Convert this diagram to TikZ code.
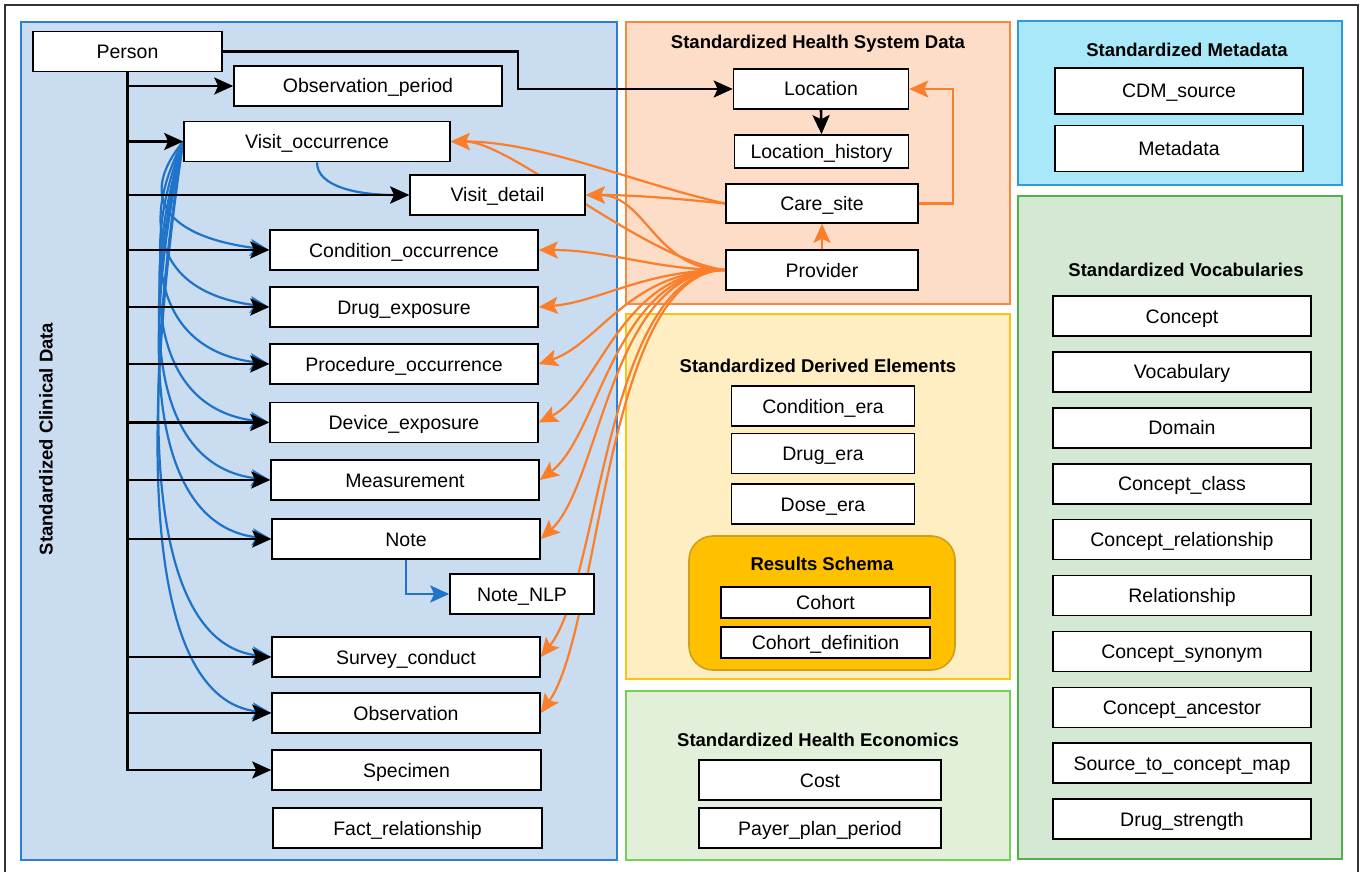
\documentclass[tikz,border=0pt]{standalone}
\usepackage{fontspec}
\setmainfont{Liberation Sans}
\usepackage{tikz}
\usetikzlibrary{positioning,arrows.meta}

\definecolor{clinfill}{HTML}{C9DCF0}
\definecolor{clinline}{HTML}{2B80D5}
\definecolor{hsfill}{HTML}{FDDCC8}
\definecolor{hsline}{HTML}{F7883C}
\definecolor{derfill}{HTML}{FFEEC1}
\definecolor{derline}{HTML}{FFC30F}
\definecolor{resfill}{HTML}{FFC000}
\definecolor{resline}{HTML}{CF9F18}
\definecolor{ecofill}{HTML}{E2F0D9}
\definecolor{ecoline}{HTML}{78CF58}
\definecolor{metafill}{HTML}{A9E8F9}
\definecolor{metaline}{HTML}{2D9BD7}
\definecolor{vocfill}{HTML}{D5E8D4}
\definecolor{vocline}{HTML}{52B04A}
\definecolor{linkblue}{HTML}{1F73C8}
\definecolor{linkorange}{HTML}{FB7F2B}

\pgfdeclarelayer{panels}
\pgfdeclarelayer{links}
\pgfsetlayers{panels,links,main}

\tikzset{
  tbl/.style={draw, line width=1.6pt, fill=white, minimum height=40pt, inner sep=0pt, text height=14pt, text depth=0pt},
  paneltitle/.style={font=\fontsize{18.5}{22}\selectfont\bfseries, inner sep=0pt, text height=13.3pt, text depth=0pt},
  panel/.style={line width=1.6pt},
  linktip/.style={-{Stealth[length=19pt 0 0, width=17pt 0 0, inset=4pt 0 0]}},
  blackarrow/.style={linktip, line width=2.6pt},
  bluearrow/.style={linktip, line width=2.2pt, color=linkblue},
  orangearrow/.style={linktip, line width=2.2pt, color=linkorange},
}

\begin{document}
\begin{tikzpicture}[x=1pt, y=-1pt, font=\fontsize{19.5}{23}\selectfont, node distance=55.9pt]
\useasboundingbox (0,0) rectangle (1361,872);

% boxes round the groups
\begin{pgfonlayer}{panels}
  \draw[line width=1.2pt, black!80] (5,5) rectangle (1358,890);
  \draw[panel, draw=clinline, fill=clinfill] (21,22) rectangle (617,860);
  \draw[panel, draw=hsline, fill=hsfill] (626,22) rectangle (1010,304);
  \draw[panel, draw=derline, fill=derfill] (626,314) rectangle (1010,679);
  \draw[panel, draw=resline, fill=resfill, rounded corners=24pt] (689,536) rectangle (955,670);
  \draw[panel, draw=ecoline, fill=ecofill] (626,691) rectangle (1010,860);
  \draw[panel, draw=metaline, fill=metafill] (1018,21) rectangle (1342,185);
  \draw[panel, draw=vocline, fill=vocfill] (1018,196) rectangle (1342,859);
\end{pgfonlayer}

\node[paneltitle, rotate=90] (clintitle) at (46,439) {Standardized Clinical Data};
\node[paneltitle] (hstitle) at (818,42) {Standardized Health System Data};
\node[paneltitle] (dertitle) at (818,366) {Standardized Derived Elements};
\node[paneltitle] (restitle) at (822,564) {Results Schema};
\node[paneltitle] (ecotitle) at (818,740) {Standardized Health Economics};
\node[paneltitle] (metatitle) at (1187,50) {Standardized Metadata};
\node[paneltitle] (voctitle) at (1186,270) {Standardized Vocabularies};

% clinical data
\node[tbl, minimum width=189pt] (person) at (127.5,51.5) {Person};
\node[tbl, minimum width=268pt] (op) at (368,86) {Observation\_period};
\node[tbl, minimum width=266pt] (vo) at (317,141.5) {Visit\_occurrence};
\node[tbl, minimum width=175pt] (vd) at (497.5,195) {Visit\_detail};
\node[tbl, minimum width=268pt] (cond) at (404,250) {Condition\_occurrence};
\node[tbl, minimum width=268pt] (drug) at (404,307) {Drug\_exposure};
\node[tbl, minimum width=268pt] (proc) at (404,364) {Procedure\_occurrence};
\node[tbl, minimum width=268pt] (dev) at (404,422.5) {Device\_exposure};
\node[tbl, minimum width=268pt] (meas) at (405,480) {Measurement};
\node[tbl, minimum width=268pt] (note) at (406,539) {Note};
\node[tbl, minimum width=144pt] (nlp) at (522,594) {Note\_NLP};
\node[tbl, minimum width=268pt] (surv) at (406,657) {Survey\_conduct};
\node[tbl, minimum width=268pt] (obs) at (406,713) {Observation};
\node[tbl, minimum width=269pt] (spec) at (406.5,770) {Specimen};
\node[tbl, minimum width=269pt] (fact) at (407.5,828) {Fact\_relationship};

% health system data
\node[tbl, minimum width=175pt] (loc) at (821,89) {Location};
\node[tbl, minimum width=174pt, minimum height=33pt] (lochist) at (821.5,151.5) {Location\_history};
\node[tbl, minimum width=192pt, minimum height=39pt] (care) at (822,203.5) {Care\_site};
\node[tbl, minimum width=192pt] (prov) at (822,270) {Provider};

% derived elements
\node[tbl, minimum width=183pt] (condera) at (823,406) {Condition\_era};
\node[tbl, minimum width=183pt] (drugera) at (823,453.5) {Drug\_era};
\node[tbl, minimum width=183pt] (doseera) at (823,504) {Dose\_era};
\node[tbl, minimum width=209pt, minimum height=31pt] (cohort) at (825.5,602.5) {Cohort};
\node[tbl, minimum width=209pt, minimum height=31pt] (cohortdef) at (825.5,642.5) {Cohort\_definition};

% health economics
\node[tbl, minimum width=242pt] (cost) at (820,780) {Cost};
\node[tbl, minimum width=242pt] (payer) at (820,828) {Payer\_plan\_period};

% metadata
\node[tbl, minimum width=248pt, minimum height=46pt] (cdmsrc) at (1179,91) {CDM\_source};
\node[tbl, minimum width=248pt, minimum height=46pt] (meta) at (1179,148.5) {Metadata};

% vocabularies
\node[tbl, minimum width=258pt] (concept) at (1182,316) {Concept};
\node[tbl, minimum width=258pt, below of=concept] (vocab) {Vocabulary};
\node[tbl, minimum width=258pt, below of=vocab] (domain) {Domain};
\node[tbl, minimum width=258pt, below of=domain] (cclass) {Concept\_class};
\node[tbl, minimum width=258pt, below of=cclass] (crel) {Concept\_relationship};
\node[tbl, minimum width=258pt, below of=crel] (rel) {Relationship};
\node[tbl, minimum width=258pt, below of=rel] (csyn) {Concept\_synonym};
\node[tbl, minimum width=258pt, below of=csyn] (canc) {Concept\_ancestor};
\node[tbl, minimum width=258pt, below of=canc] (srcmap) {Source\_to\_concept\_map};
\node[tbl, minimum width=258pt, below of=srcmap] (dstr) {Drug\_strength};

\begin{pgfonlayer}{links}
  % visits
  \foreach \t/\a/\b in {cond/55/105, drug/85/110, proc/115/112, dev/150/115, meas/180/118, note/210/120, surv/275/122, obs/305/125}
    \draw[bluearrow] (vo.west) .. controls +(-45,\a) and +(-\b,-14) .. (\t.west);
  \draw[bluearrow] (vo.south) .. controls +(0,25) and +(-50,0) .. (vd.west);
  \draw[bluearrow] (note.south) |- (nlp.west);

  % person
  \foreach \t in {op,vo,vd,cond,drug,proc,dev,meas,note,surv,obs}
    \draw[blackarrow] (person.south |- \t.west) -- (\t.west);
  \draw[blackarrow] (person.south) |- (spec.west);
  \draw[blackarrow] (person.east) -- ++(295,0) |- (loc.west);
  \draw[blackarrow] (loc.south) -- (lochist.north);

  % provider and care site
  \foreach \t/\a/\b/\c in {vd/70/60/0, cond/70/70/0, drug/80/60/5, proc/95/60/20, dev/105/60/30, meas/110/60/45, note/115/60/55, surv/120/60/75, obs/120/60/85}
    \draw[orangearrow] (prov.west) .. controls +(-\a,0) and +(\b,-\c) .. (\t.east);
  \draw[orangearrow] (prov.west) .. controls +(-80,-10) and +(60,0) .. (vo.east);
  \draw[orangearrow] (care.west) .. controls +(-90,-20) and +(90,0) .. (vo.east);
  \draw[orangearrow] (care.west) .. controls +(-50,-5) and +(50,0) .. (vd.east);
  \draw[orangearrow] (care.east) -- ++(34,0) |- (loc.east);
  \draw[orangearrow] (prov.north) -- (care.south);
\end{pgfonlayer}
\end{tikzpicture}
\end{document}
